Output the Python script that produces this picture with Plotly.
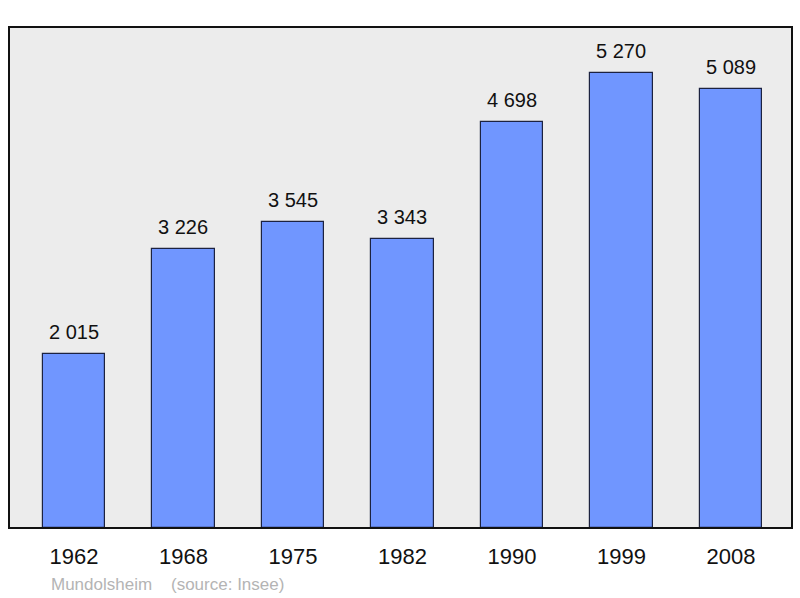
import plotly.graph_objects as go

years = ["1962", "1968", "1975", "1982", "1990", "1999", "2008"]
population = [2015, 3226, 3545, 3343, 4698, 5270, 5089]
footer_text = "Mundolsheim    (source: Insee)"

xs = list(range(len(years)))
labels = [f"{v:,}".replace(",", " ") for v in population]

fig = go.Figure()
fig.add_trace(go.Bar(
    x=xs, y=population, width=0.57,
    marker=dict(color="#7096ff", line=dict(color="#1c2240", width=1.2)),
    hoverinfo="skip",
))
for x, v, t in zip(xs, population, labels):
    fig.add_annotation(x=x, y=v, text=t, showarrow=False, yshift=22,
                       font=dict(size=20, color="#111"), xanchor="center", yanchor="middle")

fig.add_annotation(xref="paper", yref="paper", x=0.051, y=-0.113, text=footer_text,
                   showarrow=False, xanchor="left", yanchor="middle",
                   font=dict(size=17, color="#b4b4b4"))

fig.add_shape(type="rect", xref="paper", yref="paper", x0=0, y0=0, x1=1, y1=1,
              line=dict(color="#111", width=2), layer="above")

fig.update_layout(
    width=800, height=598,
    margin=dict(l=9, r=8, t=27, b=70),
    paper_bgcolor="white", plot_bgcolor="#ececec",
    font=dict(family="Liberation Sans, Arial, sans-serif"),
    showlegend=False,
    bargap=0,
    xaxis=dict(range=[-0.593, 6.557], tickvals=xs, ticktext=years, showgrid=False,
               zeroline=False, ticks="outside", ticklen=9, tickcolor="rgba(0,0,0,0)",
               tickfont=dict(size=22, color="#111"), fixedrange=True),
    yaxis=dict(range=[0, 5803], showgrid=False, zeroline=False, showticklabels=False,
               fixedrange=True),
)
fig.write_html("out.html", config={"displayModeBar": False},
               post_script="document.body.style.margin='0px';document.body.style.overflow='hidden';")
